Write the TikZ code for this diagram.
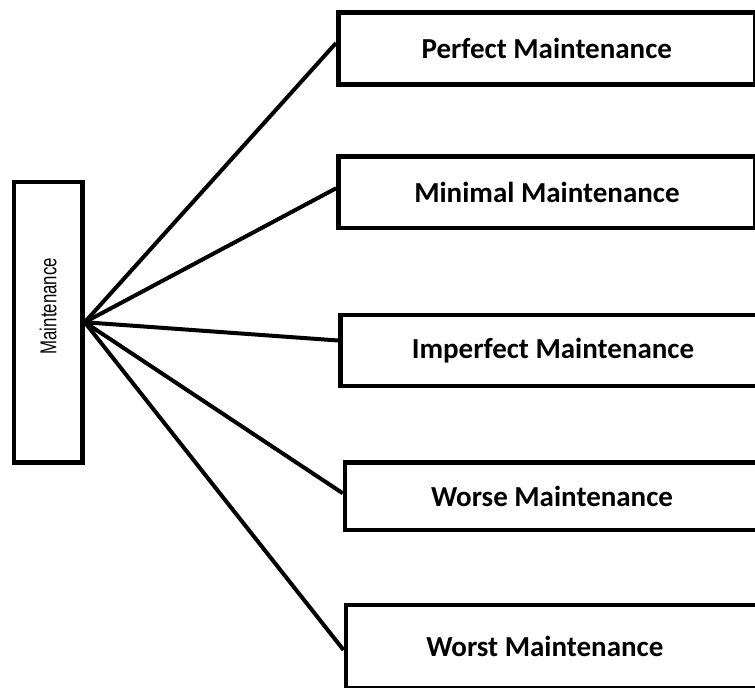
\documentclass[tikz,border=0pt]{standalone}
\usepackage{fontspec}
\setmainfont{Carlito}
\newfontfamily\sidefont{Liberation Sans}
\begin{document}
\begin{tikzpicture}[x=1pt, y=-1pt,
    box/.style={draw, line width=4.5pt, font=\fontsize{29}{34}\selectfont\bfseries},
    link/.style={line width=4pt}]
    \useasboundingbox (0,0) rectangle (755,688);
    \clip (0,0) rectangle (755,688);
    % Main box
    \node[draw, line width=4.5pt, minimum width=68.5pt, minimum height=280.5pt, inner sep=0pt] (main) at (48.25,322.25)
        {\rotatebox{90}{\sidefont\fontsize{23}{28}\selectfont\hspace*{32pt}\scalebox{0.73}[1]{Maintenance}}};
    % Kinds of maintenance
    \node[box, minimum width=417pt, minimum height=72pt]   (perfect)   at (546.8,48.5)   {Perfect Maintenance};
    \node[box, minimum width=417pt, minimum height=71.5pt] (minimal)   at (546.9,192.25) {Minimal Maintenance};
    \node[box, minimum width=425pt, minimum height=71pt]   (imperfect) at (553,350.5)    {Imperfect Maintenance};
    \node[box, minimum width=414pt, minimum height=67.5pt] (worse)     at (552,496.25)   {Worse Maintenance};
    \node[box, minimum width=412pt, minimum height=83pt]   (worst)     at (551.8,646.5)  {Worst Maintenance\hspace*{14pt}};
    % Links
    \foreach \b/\dy in {perfect/5.5, minimal/4, imperfect/10, worse/3, worst/-3.5}
        \draw[link] (main.east) -- ([yshift=\dy pt]\b.west);
\end{tikzpicture}
\end{document}
